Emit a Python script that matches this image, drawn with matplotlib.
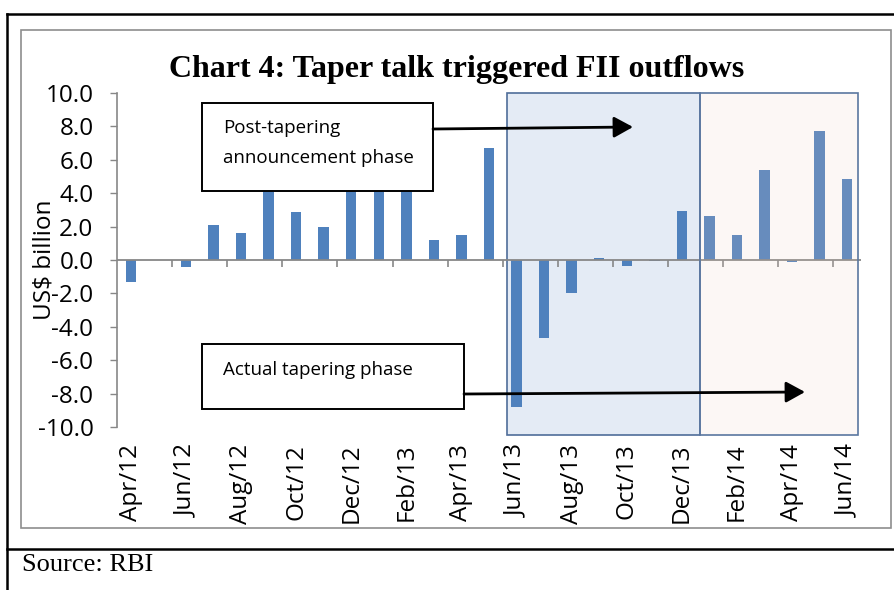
import numpy as np
import matplotlib
matplotlib.use("Agg")
import matplotlib.pyplot as plt
from matplotlib.patches import Rectangle, FancyArrowPatch
from matplotlib.lines import Line2D

# monthly FII flows, Apr/12 .. Jun/14 (US$ billion)
months = ["Apr/12", "May/12", "Jun/12", "Jul/12", "Aug/12", "Sep/12", "Oct/12", "Nov/12",
          "Dec/12", "Jan/13", "Feb/13", "Mar/13", "Apr/13", "May/13", "Jun/13", "Jul/13",
          "Aug/13", "Sep/13", "Oct/13", "Nov/13", "Dec/13", "Jan/14", "Feb/14", "Mar/14",
          "Apr/14", "May/14", "Jun/14"]
flows = [-1.3, 0.0, -0.4, 2.1, 1.6, 4.6, 2.9, 2.0,
         4.5, 5.8, 4.9, 1.2, 1.5, 6.7, -8.8, -4.7,
         -2.0, 0.12, -0.36, -0.05, 2.95, 2.65, 1.5, 5.4,
         -0.1, 7.7, 4.85]
yticks = np.arange(-10, 10.1, 2)

W, H = 894, 590
def fx(px): return px / W
def fy(py): return 1 - py / H

font = "Open Sans"
grey = "#878787"

fig = plt.figure(figsize=(W / 100, H / 100), dpi=100)
ax = fig.add_axes([fx(117), fy(427), fx(861) - fx(117), fy(93) - fy(427)])

x = np.arange(len(months))
ax.bar(x, flows, width=0.38, color="#4F81BD", zorder=2)

# shaded phases
ax.add_patch(Rectangle((13.66, -10.5), 7.0, 20.5, facecolor="#E4EBF5",
                       edgecolor="#4F6D99", lw=1.2, zorder=0.5, clip_on=False))
ax.add_patch(Rectangle((20.66, -10.5), 5.73, 20.5, facecolor=(0.945, 0.81, 0.74, 0.15),
                       edgecolor="#5A77A0", lw=1.2, zorder=3, clip_on=False))

# zero axis with tick marks
ax.axhline(0, color=grey, lw=1.3, zorder=2.5)
ax.vlines(np.arange(1.5, 26, 2), -0.42, 0, color=grey, lw=1.2, zorder=2.5)

ax.set_xlim(-0.5, 26.5)
ax.set_ylim(-10, 10)
ax.set_yticks(yticks)
ax.set_yticklabels(["%.1f" % v for v in yticks], family=font, fontsize=17.5)
ax.set_xticks(x[::2])
ax.set_xticklabels(months[::2], rotation=90, family=font, fontsize=17.5)
ax.tick_params(axis="y", direction="out", length=5, width=1, color=grey, pad=12)
ax.tick_params(axis="x", length=0, pad=12)
for s in ["top", "right", "bottom"]:
    ax.spines[s].set_visible(False)
ax.spines["left"].set_color(grey)
ax.spines["left"].set_linewidth(1.2)
ax.set_ylabel(r"US\$ billion", family=font, fontsize=17.5)
ax.yaxis.set_label_coords(-0.081, 0.5)

# frames
fig.add_artist(Line2D([fx(7), fx(7)], [fy(14), 0], color="black", lw=1.8))
fig.add_artist(Line2D([fx(7), 1], [fy(14), fy(14)], color="black", lw=1.8))
fig.add_artist(Line2D([fx(7), 1], [fy(549), fy(549)], color="black", lw=1.8))
fig.add_artist(Rectangle((fx(21), fy(528)), fx(891) - fx(21), fy(30) - fy(528),
                         transform=fig.transFigure, fill=False, edgecolor="#8E8E8E", lw=1.2))

fig.text(fx(457), fy(70), "Chart 4: Taper talk triggered FII outflows", ha="center", va="center",
         family="Liberation Serif", weight="bold", fontsize=23)
fig.text(fx(22), fy(565), "Source: RBI", ha="left", va="center",
         family="Liberation Serif", fontsize=19)

# annotation boxes
fig.add_artist(Rectangle((fx(202), fy(191)), fx(433) - fx(202), fy(103) - fy(191),
                         transform=fig.transFigure, facecolor="white", edgecolor="black", lw=1.4, zorder=5))
fig.text(fx(223), fy(128), "Post-tapering", va="center", family=font, fontsize=13.5, zorder=6)
fig.text(fx(223), fy(158), "announcement phase", va="center", family=font, fontsize=13.5, zorder=6)
fig.add_artist(Rectangle((fx(202), fy(409)), fx(464) - fx(202), fy(344) - fy(409),
                         transform=fig.transFigure, facecolor="white", edgecolor="black", lw=1.4, zorder=5))
fig.text(fx(223), fy(370), "Actual tapering phase", va="center", family=font, fontsize=13.5, zorder=6)

for (x0, y0), (x1, y1) in [((433, 129), (633, 127)), ((464, 394), (805, 392))]:
    fig.add_artist(FancyArrowPatch((fx(x0), fy(y0)), (fx(x1), fy(y1)), transform=fig.transFigure,
                                   arrowstyle="-|>,head_length=0.4,head_width=0.22", mutation_scale=29,
                                   lw=2, color="black", shrinkA=0, shrinkB=0, zorder=6))

fig.savefig("out.png", dpi=100)
